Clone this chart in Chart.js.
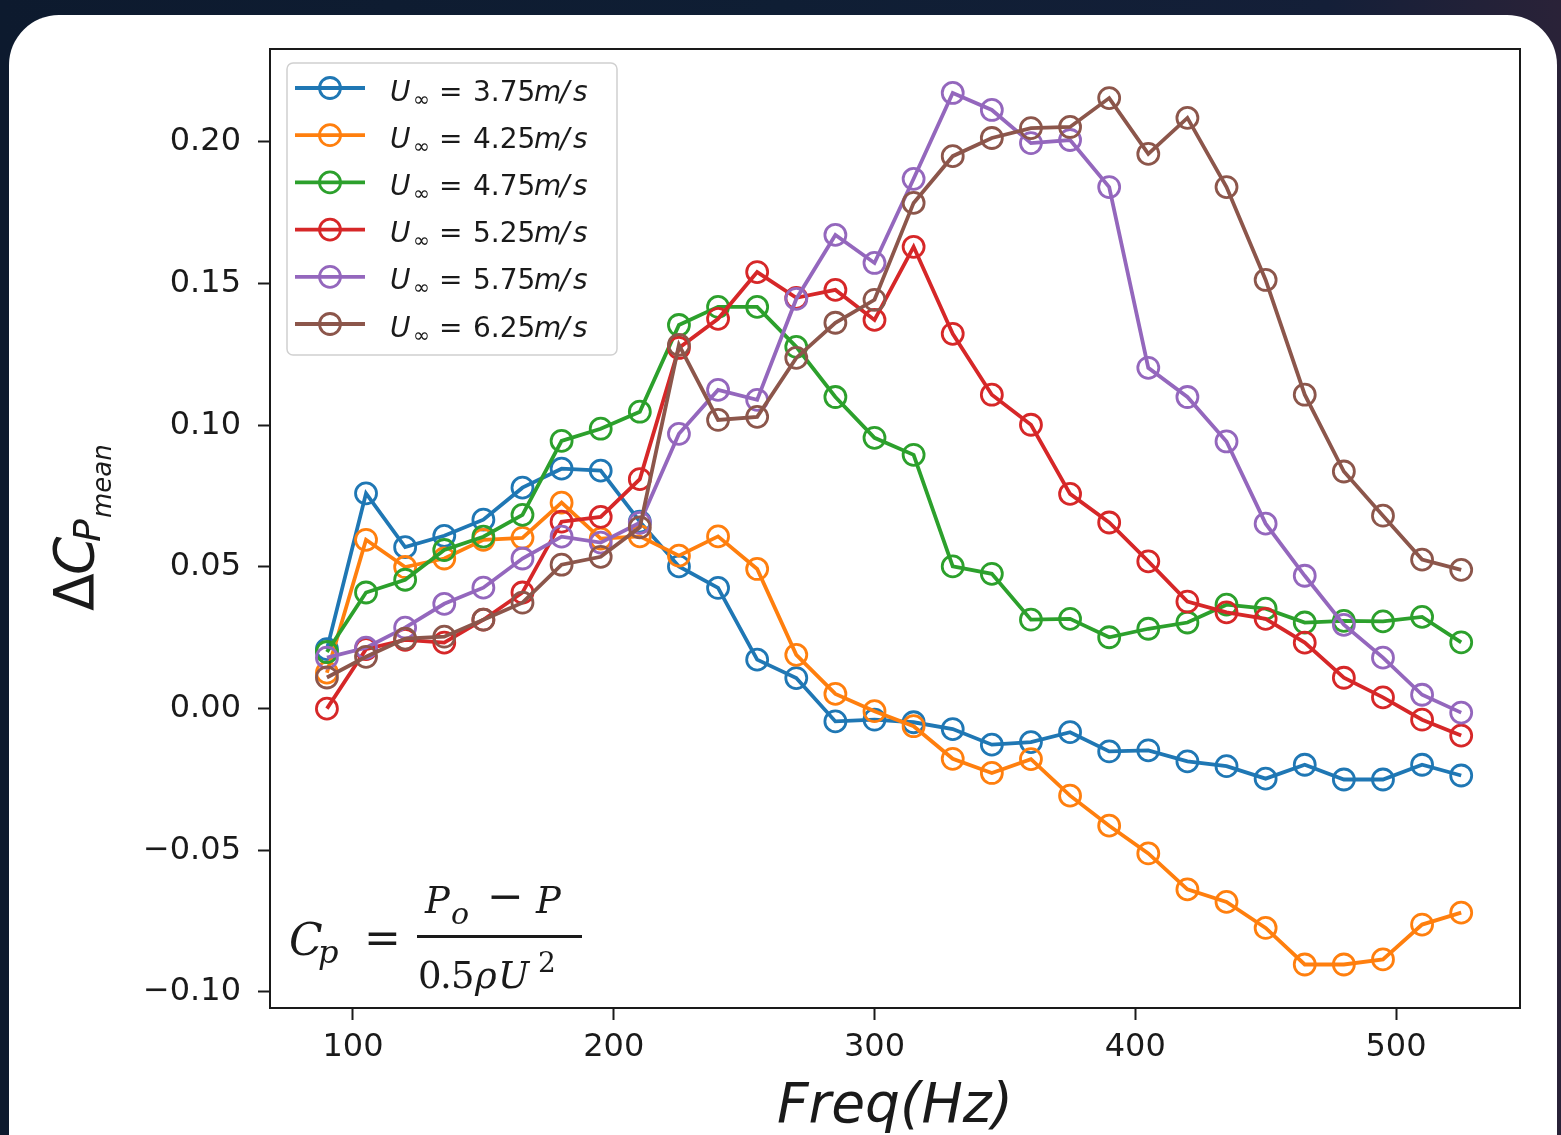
<!DOCTYPE html>
<html><head><meta charset="utf-8">
<script src="https://cdn.jsdelivr.net/npm/chart.js@4"></script>
<style>
html,body{margin:0;padding:0;width:1561px;height:1135px;overflow:hidden;background:#0c1a2d;}
#bg{position:absolute;left:0;top:0;width:1561px;height:1135px;background:linear-gradient(90deg,#0d1a2e 0%,#0f1e34 50%,#141f38 85%,#2a2238 100%);}
#card{position:absolute;left:9px;top:15px;width:1548px;height:1200px;background:#fff;border-radius:50px;}
#wrap{position:absolute;left:0;top:0;width:1561px;height:1135px;}
</style></head><body>
<div id="bg"></div><div id="card"></div>
<div id="wrap"><canvas id="c" width="1561" height="1135"></canvas></div>
<script>
// ---- data ----
const freq = [90,105,120,135,150,165,180,195,210,225,240,255,270,285,300,315,330,345,360,375,390,405,420,435,450,465,480,495,510,525];
const speeds = ['3.75','4.25','4.75','5.25','5.75','6.25'];
const u375 = [0.021,0.076,0.057,0.061,0.0667,0.078,0.0847,0.084,0.066,0.0502,0.0426,0.0173,0.0108,-0.0045,-0.0039,-0.0048,-0.0072,-0.0127,-0.0118,-0.0083,-0.0151,-0.0147,-0.0186,-0.0203,-0.0247,-0.0198,-0.025,-0.025,-0.0198,-0.0236];
const u425 = [0.0127,0.0596,0.050,0.053,0.0596,0.0603,0.0727,0.060,0.0608,0.054,0.0608,0.0493,0.019,0.0052,-0.0009,-0.0062,-0.0177,-0.0227,-0.0178,-0.0307,-0.0413,-0.0511,-0.0638,-0.0682,-0.0774,-0.0903,-0.0903,-0.0885,-0.0762,-0.072];
const u475 = [0.020,0.041,0.0455,0.056,0.0607,0.0684,0.0945,0.0988,0.1048,0.1354,0.1418,0.1418,0.1277,0.110,0.0956,0.0896,0.0502,0.0476,0.0314,0.0317,0.0252,0.0282,0.0304,0.0367,0.0353,0.0304,0.031,0.0308,0.0324,0.0234];
const u525 = [0.000,0.021,0.0243,0.0233,0.0314,0.041,0.066,0.0677,0.081,0.1273,0.1376,0.1541,0.145,0.1478,0.1372,0.163,0.1323,0.1108,0.1002,0.0758,0.0657,0.052,0.0378,0.034,0.0317,0.0233,0.0109,0.004,-0.0039,-0.0095];
const u575 = [0.018,0.0215,0.0286,0.037,0.0427,0.053,0.0607,0.0586,0.0656,0.097,0.1125,0.109,0.1446,0.1672,0.1573,0.187,0.2173,0.2113,0.1996,0.2007,0.1841,0.1203,0.110,0.0943,0.0653,0.0469,0.0296,0.018,0.0049,-0.0014];
const u625 = [0.011,0.0183,0.0247,0.0254,0.0314,0.0374,0.0508,0.0536,0.064,0.1284,0.1019,0.103,0.1238,0.1362,0.1443,0.1785,0.195,0.2014,0.2049,0.2053,0.2155,0.1958,0.2085,0.1841,0.1513,0.1108,0.0837,0.0681,0.0526,0.049];
const xTicks = [100,200,300,400,500];
const yTicks = [-0.10,-0.05,0.00,0.05,0.10,0.15,0.20];

const series = [u375,u425,u475,u525,u575,u625];
const colors = ['#1f77b4','#ff7f0e','#2ca02c','#d62728','#9467bd','#8c564b'];
const TXT = '#1a1a1a';

const decor = {
  id:'decor',
  afterDraw(chart){
    const ctx = chart.ctx, a = chart.chartArea;
    ctx.save();
    // frame
    ctx.strokeStyle = '#1a1a1a'; ctx.lineWidth = 2;
    ctx.strokeRect(a.left, a.top, a.right - a.left, a.bottom - a.top);
    // legend
    const lx = 287, ly = 63, lw = 330, lh = 292;
    ctx.beginPath();
    ctx.roundRect(lx, ly, lw, lh, 6);
    ctx.fillStyle = 'rgba(255,255,255,0.8)'; ctx.fill();
    ctx.strokeStyle = '#d0d0d0'; ctx.lineWidth = 1.5; ctx.stroke();
    ctx.textAlign = 'left'; ctx.textBaseline = 'alphabetic';
    for (let i = 0; i < speeds.length; i++) {
      const cy = 88 + i * 47.2;
      ctx.strokeStyle = colors[i]; ctx.lineWidth = 3.8;
      ctx.beginPath(); ctx.moveTo(295, cy); ctx.lineTo(365, cy); ctx.stroke();
      ctx.lineWidth = 2.8;
      ctx.beginPath(); ctx.arc(330, cy, 10.5, 0, Math.PI*2); ctx.stroke();
      const by = cy + 12.5;
      ctx.fillStyle = TXT;
      ctx.font = 'italic 28px "DejaVu Sans"'; ctx.fillText('U', 390, by);
      ctx.font = '20px "DejaVu Sans"'; ctx.fillText('\u221E', 413, by + 5);
      ctx.font = '28px "DejaVu Sans"'; ctx.fillText('=', 439, by);
      ctx.fillText(speeds[i], 473, by);
      ctx.font = 'italic 28px "DejaVu Sans"';
      ctx.fillText('m', 534, by); ctx.fillText('/', 560, by); ctx.fillText('s', 573, by);
    }
    // x title
    ctx.fillStyle = TXT;
    ctx.font = 'italic 55px "DejaVu Sans"'; ctx.textAlign = 'center';
    ctx.fillText('Freq(Hz)', (a.left + a.right) / 2, 1122);
    // y title
    ctx.textAlign = 'left';
    ctx.save();
    ctx.translate(93, 611); ctx.rotate(-Math.PI/2);
    ctx.font = '55px "DejaVu Sans"'; ctx.fillText('\u0394', 0, 0);
    ctx.font = 'italic 55px "DejaVu Sans"'; ctx.fillText('C', 36, 0);
    ctx.font = 'italic 38px "DejaVu Sans"'; ctx.fillText('P', 69, 7);
    ctx.font = 'italic 26px "DejaVu Sans"'; ctx.fillText('mean', 93, 18);
    ctx.restore();
    // formula  C_p = (P_o - P) / (0.5 rho U^2)
    const serif = '"DejaVu Serif"';
    ctx.font = 'italic 44px ' + serif; ctx.fillText('C', 289, 955);
    ctx.font = 'italic 32px ' + serif; ctx.fillText('p', 318, 963);
    ctx.font = '44px ' + serif; ctx.fillText('=', 364, 953);
    ctx.fillRect(417, 935, 165, 3);
    ctx.font = 'italic 37px ' + serif; ctx.fillText('P', 425, 913);
    ctx.font = 'italic 30px ' + serif; ctx.fillText('o', 451, 924);
    ctx.font = '44px ' + serif; ctx.fillText('\u2212', 487, 911);
    ctx.font = 'italic 37px ' + serif; ctx.fillText('P', 536, 913);
    ctx.font = '37px ' + serif;
    ctx.fillText('0', 418, 988); ctx.fillText('.', 440, 988); ctx.fillText('5', 451, 988);
    ctx.font = 'italic 37px ' + serif; ctx.fillText('\u03C1', 475, 988);
    ctx.fillText('U', 498, 988);
    ctx.font = '28px ' + serif; ctx.fillText('2', 538, 972);
    ctx.restore();
  }
};

const tickFont = {family:'DejaVu Sans', size:32};
new Chart(document.getElementById('c').getContext('2d'), {
  type:'line',
  data:{
    datasets: series.map((vals, i) => ({
      label: 'U\u221E = ' + speeds[i] + 'm/s',
      data: freq.map((f, j) => ({x:f, y:vals[j]})),
      borderColor: colors[i],
      backgroundColor: 'rgba(0,0,0,0)',
      pointBackgroundColor: 'rgba(0,0,0,0)',
      pointBorderColor: colors[i],
      pointRadius: 10.5,
      pointHoverRadius: 10.5,
      pointBorderWidth: 2.8,
      borderWidth: 3.8,
      tension: 0,
      order: series.length - 1 - i
    }))
  },
  options:{
    responsive:false, animation:false, devicePixelRatio:1, events:[],
    layout:{padding:{left:0, top:49, right:41, bottom:0}},
    plugins:{legend:{display:false}, tooltip:{enabled:false}},
    scales:{
      x:{
        type:'linear', min:68.17, max:547.55,
        afterBuildTicks: s => { s.ticks = xTicks.map(v => ({value:v})); },
        afterFit: s => { s.height = 127; },
        grid:{drawOnChartArea:false, drawTicks:true, tickLength:12, tickColor:'#1a1a1a', tickWidth:2},
        border:{display:false},
        ticks:{font:tickFont, color:TXT, padding:8, maxRotation:0, autoSkip:false, callback: v => String(v)}
      },
      y:{
        type:'linear', min:-0.10565, max:0.23282,
        afterBuildTicks: s => { s.ticks = yTicks.map(v => ({value:v})); },
        afterFit: s => { s.width = 270; },
        grid:{drawOnChartArea:false, drawTicks:true, tickLength:12, tickColor:'#1a1a1a', tickWidth:2},
        border:{display:false},
        ticks:{font:tickFont, color:TXT, padding:17, autoSkip:false, callback: v => (v < -1e-9 ? '\u2212' : '') + Math.abs(v).toFixed(2)}
      }
    }
  },
  plugins:[decor]
});
</script>
</body></html>
